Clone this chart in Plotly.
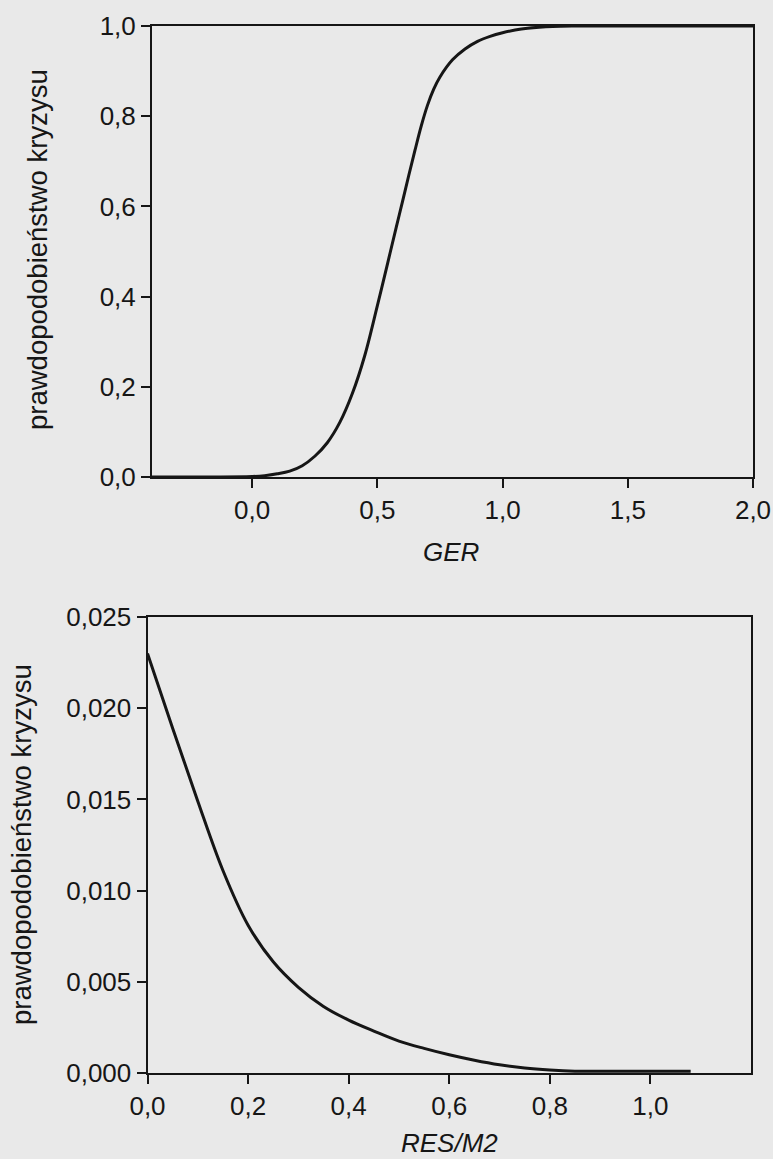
import plotly.graph_objects as go

W, H = 773, 1159

# --- top panel: probability vs GER ---
ger = [-0.4, -0.2, 0.0, 0.05, 0.1, 0.15, 0.2, 0.25, 0.3, 0.35, 0.4, 0.45, 0.5, 0.525,
       0.55, 0.575, 0.6, 0.625, 0.65, 0.675, 0.7, 0.725, 0.75, 0.8, 0.85, 0.9, 0.95,
       1.0, 1.05, 1.1, 1.2, 1.3, 2.0]
p_ger = [0.0, 0.0, 0.001, 0.003, 0.007, 0.013, 0.025, 0.046, 0.076, 0.121, 0.185, 0.27,
         0.38, 0.437, 0.495, 0.553, 0.61, 0.668, 0.724, 0.778, 0.824, 0.86, 0.887, 0.925,
         0.949, 0.966, 0.977, 0.985, 0.991, 0.995, 0.999, 1.0, 1.0]

# --- bottom panel: probability vs RES/M2 ---
res = [0.0, 0.05, 0.1, 0.15, 0.2, 0.25, 0.3, 0.35, 0.4, 0.45, 0.5, 0.55, 0.6, 0.65,
       0.7, 0.75, 0.8, 0.85, 0.9, 1.0, 1.08]
p_res = [0.0230, 0.0189, 0.0149, 0.0111, 0.0081, 0.0061, 0.0047, 0.00365, 0.0029, 0.0023,
         0.00175, 0.00135, 0.0010, 0.0007, 0.00045, 0.00027, 0.00016, 0.0001, 0.0001,
         0.0001, 0.0001]

ger_ticks = [0.0, 0.5, 1.0, 1.5, 2.0]
p_ger_ticks = [0.0, 0.2, 0.4, 0.6, 0.8, 1.0]
res_ticks = [0.0, 0.2, 0.4, 0.6, 0.8, 1.0]
p_res_ticks = [0.0, 0.005, 0.010, 0.015, 0.020, 0.025]

ytitle = "prawdopodobieństwo kryzysu"

FONT = "Liberation Sans, Arial, sans-serif"
INK = "#161616"
BG = "#e9e9e9"

fig = go.Figure()
fig.add_trace(go.Scatter(x=ger, y=p_ger, mode="lines", xaxis="x", yaxis="y",
                         line=dict(color=INK, width=3, shape="spline", smoothing=1.0),
                         showlegend=False, hoverinfo="skip", cliponaxis=True))
fig.add_trace(go.Scatter(x=res, y=p_res, mode="lines", xaxis="x2", yaxis="y2",
                         line=dict(color=INK, width=3, shape="spline", smoothing=1.0),
                         showlegend=False, hoverinfo="skip", cliponaxis=True))

axis_common = dict(showline=True, linecolor=INK, linewidth=2, mirror=True,
                   showgrid=False, zeroline=False, ticks="outside", ticklen=9,
                   tickwidth=1.5, tickcolor=INK, automargin=False,
                   tickfont=dict(family=FONT, size=26, color=INK))

fig.update_layout(
    width=W, height=H,
    margin=dict(l=0, r=0, t=0, b=0),
    paper_bgcolor=BG, plot_bgcolor=BG,
    separators=", ",
    xaxis=dict(domain=[152 / W, 753 / W], range=[-0.4, 2.0], tickvals=ger_ticks,
               tickformat=".1f", anchor="y", **axis_common),
    yaxis=dict(domain=[1 - 477 / H, 1 - 26 / H], range=[0, 1], tickvals=p_ger_ticks,
               tickformat=".1f", anchor="x", **axis_common),
    xaxis2=dict(domain=[147.5 / W, 751 / W], range=[0, 1.2], tickvals=res_ticks,
                tickformat=".1f", anchor="y2", **axis_common),
    yaxis2=dict(domain=[1 - 1073 / H, 1 - 617 / H], range=[0, 0.025], tickvals=p_res_ticks,
                tickformat=".3f", anchor="x2", **axis_common),
    annotations=[
        dict(text=ytitle, x=37 / W, y=1 - 250 / H, xref="paper", yref="paper",
             textangle=-90, showarrow=False, xanchor="center", yanchor="middle",
             font=dict(family=FONT, size=27.5, color=INK)),
        dict(text=ytitle, x=21 / W, y=1 - 845 / H, xref="paper", yref="paper",
             textangle=-90, showarrow=False, xanchor="center", yanchor="middle",
             font=dict(family=FONT, size=27.5, color=INK)),
        dict(text="<i>GER</i>", x=451 / W, y=1 - 552 / H, xref="paper", yref="paper",
             showarrow=False, xanchor="center", yanchor="middle",
             font=dict(family=FONT, size=26, color=INK)),
        dict(text="<i>RES/M2</i>", x=449 / W, y=1 - 1143 / H, xref="paper", yref="paper",
             showarrow=False, xanchor="center", yanchor="middle",
             font=dict(family=FONT, size=26, color=INK)),
    ],
)

fig.write_html(
    "out.html",
    config={"displayModeBar": False},
    post_script=("document.body.style.margin='0';document.body.style.padding='0';"
                 "document.body.style.background='%s';" % BG),
)
